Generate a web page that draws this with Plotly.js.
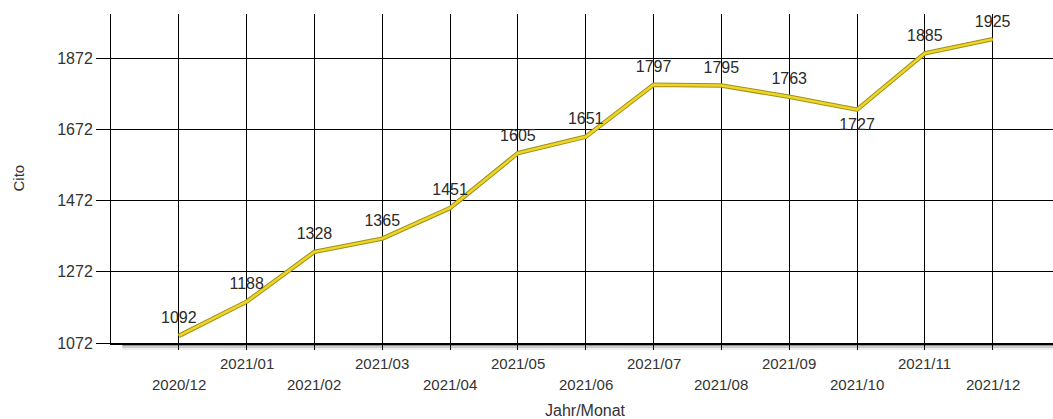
<!DOCTYPE html>
<html>
<head>
<meta charset="utf-8">
<script src="https://cdn.plot.ly/plotly-3.0.1.min.js"></script>
<style>html,body{margin:0;padding:0;background:#fff;}#chart{width:1053px;height:419px;}</style>
</head>
<body>
<div id="chart"></div>
<script>
const months = ['2020/12','2021/01','2021/02','2021/03','2021/04','2021/05','2021/06','2021/07','2021/08','2021/09','2021/10','2021/11','2021/12'];
const values = [1092,1188,1328,1365,1451,1605,1651,1797,1795,1763,1727,1885,1925];
const labelPos = ['top center','top center','top center','top center','top center','top center','top center','top center','top center','top center','bottom center','top center','top center'];
const yTicks = [1072,1272,1472,1672,1872];
const xTitle = 'Jahr/Monat';
const yTitle = 'Cito';

const font = 'Arial, "Liberation Sans", sans-serif';

const traces = [
  {
    x: months, y: values, type: 'scatter', mode: 'lines',
    line: {color: '#a09018', width: 4.5}, hoverinfo: 'skip', showlegend: false
  },
  {
    x: months, y: values, type: 'scatter', mode: 'lines+markers+text',
    line: {color: '#eed628', width: 2.5},
    marker: {size: 12, color: 'rgba(0,0,0,0)'},
    text: values.map(String), textposition: labelPos,
    textfont: {family: font, size: 16, color: '#2a2a2a'},
    cliponaxis: false,
    showlegend: false
  }
];

const annotations = months.map((m, i) => ({
  x: m, xref: 'x', y: 0, yref: 'paper', yanchor: 'top', xanchor: 'center',
  yshift: i % 2 === 0 ? -31 : -10, showarrow: false, text: m,
  font: {family: font, size: 15, color: '#333'}
}));
annotations.push({
  x: (585 - 111) / 942, xref: 'paper', xanchor: 'center', y: 0, yref: 'paper', yanchor: 'middle',
  yshift: -67, showarrow: false, text: xTitle, font: {family: font, size: 16, color: '#333'}
});
annotations.push({
  x: 0, xref: 'paper', xanchor: 'center', xshift: -93, y: 0.5, yref: 'paper', yanchor: 'middle', textangle: -90,
  showarrow: false, text: yTitle, font: {family: font, size: 15, color: '#333'}
});

const px = 1 / 329;
const shapes = [
  {type: 'rect', xref: 'paper', yref: 'paper', x0: 0.012, x1: 1, y0: -3 * px, y1: -1 * px, fillcolor: 'rgba(60,60,60,0.55)', line: {width: 0}, layer: 'below'},
  {type: 'rect', xref: 'paper', yref: 'paper', x0: 0.012, x1: 1, y0: -5 * px, y1: -3 * px, fillcolor: 'rgba(90,90,90,0.3)', line: {width: 0}, layer: 'below'},
  {type: 'rect', xref: 'paper', yref: 'paper', x0: 0.012, x1: 1, y0: -7 * px, y1: -5 * px, fillcolor: 'rgba(120,120,120,0.12)', line: {width: 0}, layer: 'below'}
];

const layout = {
  width: 1053, height: 419,
  margin: {l: 111, r: 0, t: 14, b: 76},
  paper_bgcolor: '#fff', plot_bgcolor: '#fff',
  font: {family: font, size: 12, color: '#333'},
  showlegend: false,
  xaxis: {
    type: 'category', range: [-1, 12.89],
    showgrid: true, gridcolor: '#000', gridwidth: 1,
    showline: true, linecolor: '#000', linewidth: 2,
    ticks: 'outside', ticklen: 5, tickcolor: '#000', tickwidth: 1,
    showticklabels: false, zeroline: false, fixedrange: true
  },
  yaxis: {
    range: [1072, 1995.5], tickvals: yTicks, ticktext: yTicks.map(String),
    showgrid: true, gridcolor: '#000', gridwidth: 1,
    showline: true, linecolor: '#000', linewidth: 1,
    ticks: 'outside', ticklen: 14, tickcolor: '#000', tickwidth: 1,
    tickfont: {family: font, size: 16, color: '#333'},
    zeroline: false, fixedrange: true
  },
  annotations: annotations,
  shapes: shapes
};

Plotly.newPlot('chart', traces, layout, {staticPlot: true, displayModeBar: false});
</script>
</body>
</html>
